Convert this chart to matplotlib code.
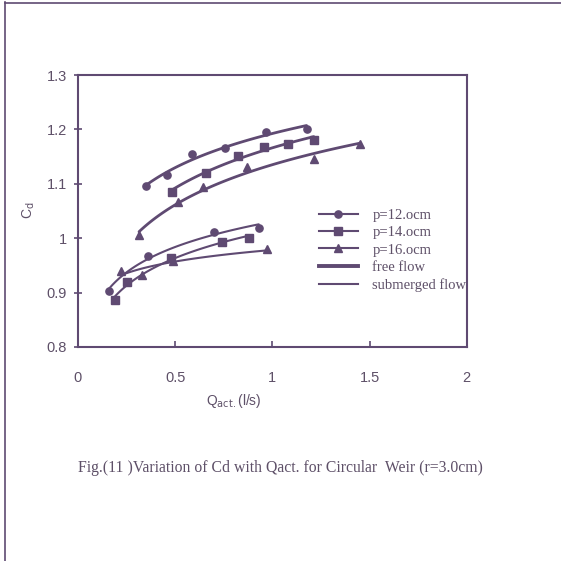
import numpy as np
import matplotlib
matplotlib.use("Agg")
import matplotlib.pyplot as plt
from matplotlib.lines import Line2D

# ---- data ----
free_p12_x = [0.35, 0.46, 0.585, 0.757, 0.965, 1.176]
free_p12_y = [1.096, 1.116, 1.154, 1.165, 1.196, 1.200]
free_p14_x = [0.482, 0.657, 0.821, 0.956, 1.078, 1.213]
free_p14_y = [1.085, 1.120, 1.152, 1.167, 1.173, 1.180]
free_p16_x = [0.314, 0.516, 0.644, 0.867, 1.213, 1.450]
free_p16_y = [1.005, 1.067, 1.094, 1.130, 1.146, 1.173]

sub_p12_x = [0.16, 0.36, 0.70, 0.93]
sub_p12_y = [0.903, 0.968, 1.012, 1.018]
sub_p14_x = [0.19, 0.25, 0.48, 0.74, 0.88]
sub_p14_y = [0.886, 0.920, 0.963, 0.993, 1.001]
sub_p16_x = [0.22, 0.33, 0.49, 0.97]
sub_p16_y = [0.940, 0.932, 0.958, 0.980]

legend_labels = ["p=12.ocm", "p=14.ocm", "p=16.ocm", "free flow", "submerged flow"]
x_ticks = [0, 0.5, 1, 1.5, 2]
x_ticklabels = ["0", "0.5", "1", "1.5", "2"]
y_ticks = [0.8, 0.9, 1.0, 1.1, 1.2, 1.3]
y_ticklabels = ["0.8", "0.9", "1", "1.1", "1.2", "1.3"]
caption = "Fig.(11 )Variation of Cd with Qact. for Circular  Weir (r=3.0cm)"

LINE = "#5f4a72"
TXT = "#5e5068"


def trend(x, y, n=80):
    """Logarithmic least-squares trend line through the points."""
    x = np.asarray(x, float)
    y = np.asarray(y, float)
    b, a = np.polyfit(np.log(x), y, 1)
    xs = np.linspace(x.min(), x.max(), n)
    return xs, a + b * np.log(xs)


plt.rcParams['font.family'] = ['Liberation Sans', 'DejaVu Sans']
fig = plt.figure(figsize=(5.61, 5.61), dpi=100)
ax = fig.add_axes([0.139, 0.3815, 0.693, 0.4848])

series = [
    (free_p12_x, free_p12_y, 'o', 2.0),
    (free_p14_x, free_p14_y, 's', 2.0),
    (free_p16_x, free_p16_y, '^', 2.0),
    (sub_p12_x, sub_p12_y, 'o', 1.5),
    (sub_p14_x, sub_p14_y, 's', 1.5),
    (sub_p16_x, sub_p16_y, '^', 1.5),
]
for xs, ys, m, lw in series:
    sx, sy = trend(xs, ys)
    ax.plot(sx, sy, color=LINE, lw=lw, solid_capstyle='round')
    ax.plot(xs, ys, linestyle='none', marker=m, ms=5.2, color=LINE, mec=LINE)

ax.set_xlim(0, 2)
ax.set_ylim(0.8, 1.3)
ax.set_xticks(x_ticks)
ax.set_xticklabels(x_ticklabels)
ax.set_yticks(y_ticks)
ax.set_yticklabels(y_ticklabels)
ax.tick_params(axis='x', direction='in', length=4, pad=17, labelsize=10.5,
               labelcolor=TXT, color=LINE, width=1.2)
ax.tick_params(axis='y', direction='inout', length=6, pad=5, labelsize=10.5,
               labelcolor=TXT, color=LINE, width=1.2)
for s in ax.spines.values():
    s.set_color(LINE)
    s.set_linewidth(1.5)

ax.set_xlabel(r'Q$_{\mathrm{act.}}$(l/s)', color=TXT, fontsize=10)
ax.xaxis.set_label_coords(0.40, -0.165)
ax.set_ylabel(r'C$_{\mathrm{d}}$', color=TXT, fontsize=10)
ax.yaxis.set_label_coords(-0.105, 0.504)

handles = [
    Line2D([], [], color=LINE, lw=1.5, marker='o', ms=5.2),
    Line2D([], [], color=LINE, lw=1.5, marker='s', ms=5.2),
    Line2D([], [], color=LINE, lw=1.5, marker='^', ms=5.2),
    Line2D([], [], color=LINE, lw=2.8),
    Line2D([], [], color=LINE, lw=1.5),
]
leg = ax.legend(handles, legend_labels, loc='upper left', bbox_to_anchor=(0.6, 0.535),
                frameon=False, handlelength=2.7, handletextpad=1.0, labelspacing=0.28,
                prop={'family': ['Liberation Serif'], 'size': 10.5}, borderpad=0)
for t in leg.get_texts():
    t.set_color(TXT)

fig.text(0.5, 1 - 468 / 561, caption, ha='center', va='center',
         family=['Liberation Serif'], fontsize=11.3, color=TXT)

# outer scanned frame lines (left and top)
fig.add_artist(Line2D([5 / 561, 5 / 561], [0, 1 - 2 / 561], transform=fig.transFigure,
                      color=LINE, lw=1.2))
fig.add_artist(Line2D([5 / 561, 1], [1 - 3 / 561, 1 - 3 / 561], transform=fig.transFigure,
                      color=LINE, lw=1.2))

fig.savefig('out.png', dpi=100, facecolor='white')
